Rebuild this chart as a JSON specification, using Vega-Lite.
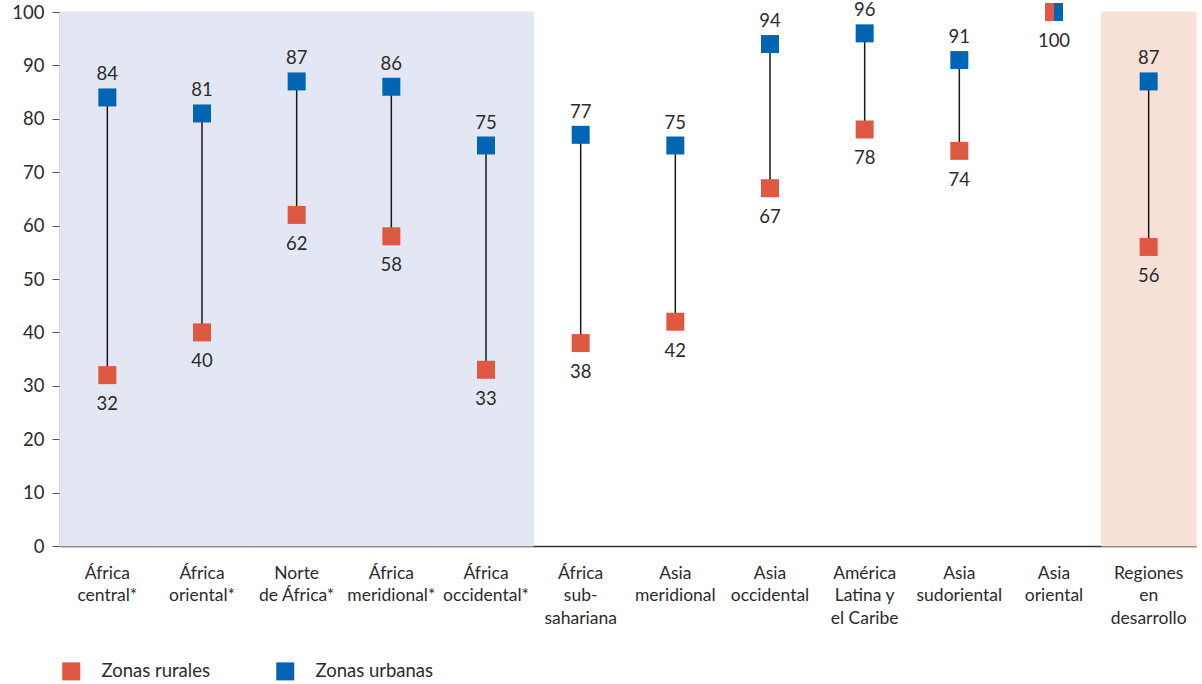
{
  "$schema": "https://vega.github.io/schema/vega-lite/v6.json",
  "autosize": {"type": "none"},
  "width": 1136,
  "height": 534,
  "padding": {"left": 60, "top": 12, "right": 6, "bottom": 138},
  "background": "white",
  "config": {
    "font": "Lato",
    "view": {"stroke": null},
    "text": {"font": "Lato"}
  },
  "data": {
    "values": [
      {"region": "África|central*", "Zonas rurales": 32, "Zonas urbanas": 84, "grupo": "África"},
      {"region": "África|oriental*", "Zonas rurales": 40, "Zonas urbanas": 81, "grupo": "África"},
      {"region": "Norte|de África*", "Zonas rurales": 62, "Zonas urbanas": 87, "grupo": "África"},
      {"region": "África|meridional*", "Zonas rurales": 58, "Zonas urbanas": 86, "grupo": "África"},
      {"region": "África|occidental*", "Zonas rurales": 33, "Zonas urbanas": 75, "grupo": "África"},
      {"region": "África|sub-|sahariana", "Zonas rurales": 38, "Zonas urbanas": 77, "grupo": "Otro"},
      {"region": "Asia|meridional", "Zonas rurales": 42, "Zonas urbanas": 75, "grupo": "Otro"},
      {"region": "Asia|occidental", "Zonas rurales": 67, "Zonas urbanas": 94, "grupo": "Otro"},
      {"region": "América|Latina y|el Caribe", "Zonas rurales": 78, "Zonas urbanas": 96, "grupo": "Otro"},
      {"region": "Asia|sudoriental", "Zonas rurales": 74, "Zonas urbanas": 91, "grupo": "Otro"},
      {"region": "Asia|oriental", "Zonas rurales": 100, "Zonas urbanas": 100, "grupo": "Otro"},
      {"region": "Regiones|en|desarrollo", "Zonas rurales": 56, "Zonas urbanas": 87, "grupo": "Total"}
    ]
  },
  "encoding": {
    "x": {
      "field": "region",
      "type": "nominal",
      "sort": null,
      "scale": {
        "paddingInner": 0,
        "paddingOuter": 0,
        "domain": ["África|central*", "África|oriental*", "Norte|de África*", "África|meridional*", "África|occidental*", "África|sub-|sahariana", "Asia|meridional", "Asia|occidental", "América|Latina y|el Caribe", "Asia|sudoriental", "Asia|oriental", "Regiones|en|desarrollo"]
      },
      "axis": {
        "title": null,
        "labelAngle": 0,
        "labelExpr": "split(datum.value, '|')",
        "labelFontSize": 17.5,
        "labelColor": "#2b2b2b",
        "labelLineHeight": 22.5,
        "labelPadding": 18,
        "labelBaseline": "top",
        "ticks": false,
        "domainColor": "#333333",
        "domainWidth": 1.5,
        "labelFont": "Lato"
      }
    }
  },
  "layer": [
    {
      "transform": [{"filter": "datum.grupo != 'Otro'"}],
      "mark": {"type": "bar", "opacity": 1, "strokeWidth": 1},
      "encoding": {
        "y": {"datum": 100, "type": "quantitative"},
        "y2": {"datum": 0},
        "fill": {
          "field": "grupo",
          "type": "nominal",
          "scale": {"domain": ["África", "Total"], "range": ["#e3e7f3", "#f6e0d7"]},
          "legend": null
        },
        "stroke": {
          "field": "grupo",
          "type": "nominal",
          "scale": {"domain": ["África", "Total"], "range": ["#e3e7f3", "#f6e0d7"]},
          "legend": null
        }
      }
    },
    {
      "mark": {"type": "rule", "color": "#1a1a1a", "strokeWidth": 1.5},
      "encoding": {
        "y": {"field": "Zonas rurales", "type": "quantitative"},
        "y2": {"field": "Zonas urbanas"}
      }
    },
    {
      "transform": [{"fold": ["Zonas rurales", "Zonas urbanas"], "as": ["zona", "valor"]}],
      "mark": {"type": "point", "shape": "square", "filled": true, "opacity": 1, "size": 324, "strokeWidth": 0},
      "encoding": {
        "y": {
          "field": "valor",
          "type": "quantitative",
          "scale": {"domain": [0, 100], "nice": false},
          "axis": {
            "title": null,
            "values": [0, 10, 20, 30, 40, 50, 60, 70, 80, 90, 100],
            "grid": false,
            "labelFontSize": 18.5,
            "labelColor": "#2b2b2b",
            "labelPadding": 8,
            "tickSize": 8,
            "tickColor": "#555555",
            "domainColor": "#333333",
            "domainWidth": 1.5,
            "labelFont": "Lato"
          }
        },
        "color": {
          "field": "zona",
          "type": "nominal",
          "scale": {"domain": ["Zonas rurales", "Zonas urbanas"], "range": ["#de5941", "#0066b3"]},
          "legend": {
            "title": null,
            "orient": "bottom",
            "direction": "horizontal",
            "symbolType": "square",
            "symbolSize": 324,
            "symbolStrokeWidth": 0,
            "labelFontSize": 18.5,
            "labelColor": "#2b2b2b",
            "labelOffset": 21,
            "columnPadding": 66,
            "offset": 33,
            "padding": 2,
            "labelFont": "Lato"
          }
        }
      }
    },
    {
      "transform": [{"filter": "datum['Zonas rurales'] == datum['Zonas urbanas']"}],
      "mark": {"type": "point", "shape": "M-1,-1H0V1H-1Z", "filled": true, "opacity": 1, "size": 324, "strokeWidth": 0, "color": "#de5941"},
      "encoding": {
        "y": {"field": "Zonas rurales", "type": "quantitative"}
      }
    },
    {
      "transform": [{"filter": "datum['Zonas rurales'] != datum['Zonas urbanas']"}],
      "mark": {"type": "text", "dy": -23, "fontSize": 18.5, "color": "#2b2b2b", "font": "Lato"},
      "encoding": {
        "y": {"field": "Zonas urbanas", "type": "quantitative"},
        "text": {"field": "Zonas urbanas", "type": "quantitative"}
      }
    },
    {
      "mark": {"type": "text", "dy": 29, "fontSize": 18.5, "color": "#2b2b2b", "font": "Lato"},
      "encoding": {
        "y": {"field": "Zonas rurales", "type": "quantitative"},
        "text": {"field": "Zonas rurales", "type": "quantitative"}
      }
    }
  ]
}
